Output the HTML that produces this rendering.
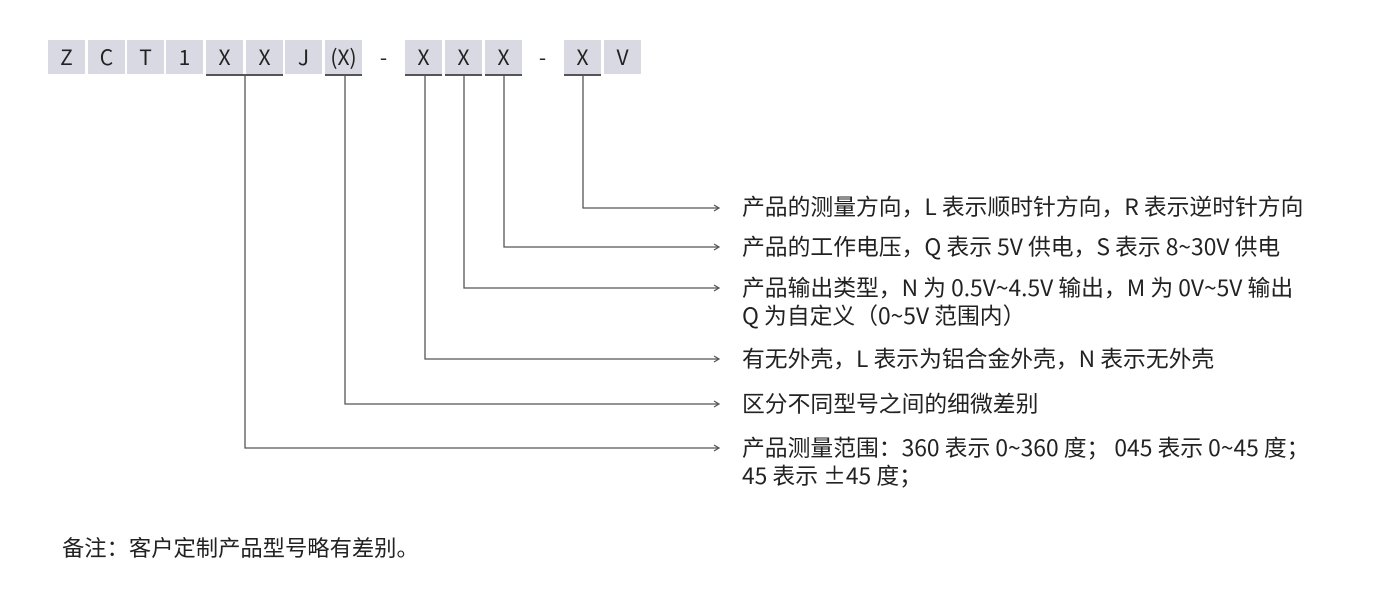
<!DOCTYPE html>
<html><head><meta charset="utf-8"><style>
body{margin:0;width:1400px;height:593px;background:#fff;position:relative;overflow:hidden;font-family:"Noto Sans CJK SC","Liberation Sans",sans-serif;color:#222}
.b{position:absolute;top:40px;width:37px;height:34px;background:#d9d9e3;font-size:21px;line-height:34px;text-align:center;color:#222}
.d{position:absolute;top:40px;width:37px;height:34px;font-size:21px;line-height:34px;text-align:center}
.t{position:absolute;left:742px;font-size:22.8px;line-height:28px;white-space:nowrap}
</style></head><body>
<div class="b" style="left:48px">Z</div>
<div class="b" style="left:88px">C</div>
<div class="b" style="left:127px">T</div>
<div class="b" style="left:166px">1</div>
<div class="b" style="left:206px">X</div>
<div class="b" style="left:246px">X</div>
<div class="b" style="left:285px">J</div>
<div class="b" style="left:325px">(X)</div>
<div class="d" style="left:365px">-</div>
<div class="b" style="left:405px">X</div>
<div class="b" style="left:445px">X</div>
<div class="b" style="left:485px">X</div>
<div class="d" style="left:524px">-</div>
<div class="b" style="left:564px">X</div>
<div class="b" style="left:604px">V</div>
<svg width="1400" height="593" style="position:absolute;left:0;top:0" fill="none" stroke="#555" stroke-width="1.3">
<g stroke-width="2"><line x1="206" y1="75" x2="283" y2="75"/><line x1="325" y1="75" x2="362" y2="75"/><line x1="405" y1="75" x2="442" y2="75"/><line x1="445" y1="75" x2="482" y2="75"/><line x1="485" y1="75" x2="522" y2="75"/><line x1="564" y1="75" x2="601" y2="75"/></g>
<path d="M583 75V208H718M504 75V247H718M464 75V288H718M425 75V359H718M345 75V404H718M245 75V448H718"/>
<g stroke-width="1.2"><path d="M714 205l5 3l-5 3M714 244l5 3l-5 3M714 285l5 3l-5 3M714 356l5 3l-5 3M714 401l5 3l-5 3M714 445l5 3l-5 3"/></g>
</svg>
<div class="t" style="top:192px">产品的测量方向，L 表示顺时针方向，R 表示逆时针方向</div>
<div class="t" style="top:232px">产品的工作电压，Q 表示 5V 供电，S 表示 8~30V 供电</div>
<div class="t" style="top:273px">产品输出类型，N 为 0.5V~4.5V 输出，M 为 0V~5V 输出<br>Q 为自定义（0~5V 范围内）</div>
<div class="t" style="top:344px">有无外壳，L 表示为铝合金外壳，N 表示无外壳</div>
<div class="t" style="top:389px">区分不同型号之间的细微差别</div>
<div class="t" style="top:433px">产品测量范围：360 表示 0~360 度； 045 表示 0~45 度；<br>45 表示 ±45 度；</div>
<div class="t" style="left:62px;top:533px;font-size:22.3px">备注：客户定制产品型号略有差别。</div>
</body></html>
